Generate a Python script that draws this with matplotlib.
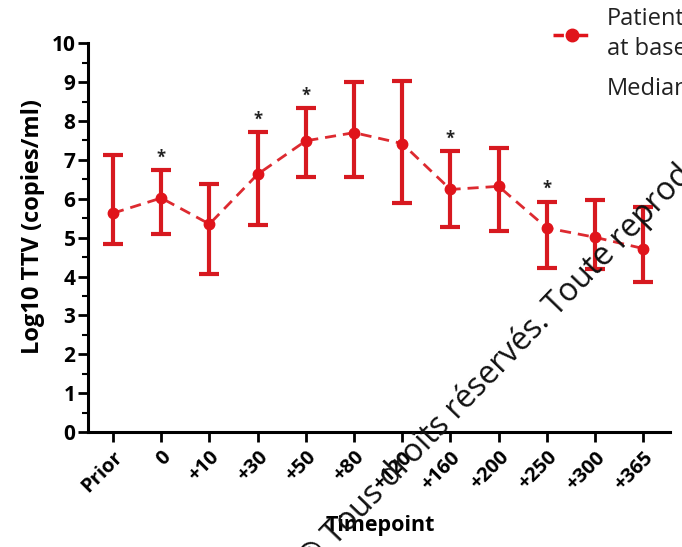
import numpy as np
import matplotlib.pyplot as plt
from matplotlib.ticker import MultipleLocator

plt.rcParams['font.family'] = ['Open Sans', 'DejaVu Sans']

timepoints = ['Prior', '0', '+10', '+30', '+50', '+80', '+120', '+160', '+200', '+250', '+300', '+365']
median = [5.63, 6.02, 5.35, 6.63, 7.49, 7.70, 7.42, 6.24, 6.32, 5.25, 5.01, 4.72]
upper = [7.13, 6.74, 6.38, 7.71, 8.34, 8.99, 9.03, 7.23, 7.30, 5.93, 5.98, 5.78]
lower = [4.85, 5.10, 4.07, 5.33, 6.56, 6.56, 5.89, 5.27, 5.17, 4.21, 4.20, 3.87]
stars = [False, True, False, True, True, False, False, True, False, True, False, False]

red = '#e0141b'

fig = plt.figure(figsize=(6.82, 5.47), dpi=100)
ax = fig.add_axes([0.129, 0.210, 0.853, 0.711])

x = np.arange(len(timepoints))
med = np.array(median)
yerr = [med - np.array(lower), np.array(upper) - med]
ax.errorbar(x, med, yerr=yerr, fmt='o', color=red, ecolor='#d71920', elinewidth=3,
            capsize=7, capthick=3, markersize=7.5, zorder=3)
ax.plot(x, med, linestyle=(0, (4, 2.5)), color='#dd2a30', linewidth=2, zorder=2)

for i, s in enumerate(stars):
    if s:
        ax.text(x[i], upper[i] + 0.32, '*', ha='center', va='center', fontsize=12,
                fontweight='bold', color='#222222')

ax.set_xlim(-0.52, 11.55)
ax.set_ylim(0, 10)
ax.set_xticks(x)
ax.set_xticklabels(timepoints, rotation=45, ha='right', rotation_mode='anchor',
                   fontsize=14.5, fontweight='bold')
ax.set_yticks(range(0, 11))
ax.yaxis.set_minor_locator(MultipleLocator(0.5))
ax.tick_params(axis='y', labelsize=15, width=2, length=7, pad=2)
ax.tick_params(axis='y', which='minor', width=1.5, length=4)
ax.tick_params(axis='x', width=2, length=7, pad=4)
for lbl in ax.get_yticklabels():
    lbl.set_fontweight('bold')
ax.spines['top'].set_visible(False)
ax.spines['right'].set_visible(False)
ax.spines['left'].set_linewidth(2.2)
ax.spines['bottom'].set_linewidth(2.2)

ax.set_ylabel('Log10 TTV (copies/ml)', fontsize=17, fontweight='bold')
ax.yaxis.set_label_coords(-0.074, 0.528)
ax.set_xlabel('Timepoint', fontsize=15.5, fontweight='bold')
ax.xaxis.set_label_coords(0.502, -0.214)

# legend, cut off at the right edge like in the source
leg_line = plt.Line2D([0.811, 0.839, 0.866], [0.936, 0.936, 0.936], transform=fig.transFigure,
                      color=red, linestyle=(0, (3, 4)), linewidth=2.5,
                      marker='o', markersize=9, markevery=[1])
fig.lines.append(leg_line)
fig.text(0.89, 0.965, 'Patient', fontsize=17, va='center', ha='left', color='#222222')
fig.text(0.89, 0.91, 'at base', fontsize=17, va='center', ha='left', color='#222222')
fig.text(0.89, 0.838, 'Median', fontsize=17, va='center', ha='left', color='#222222')

# watermark
fig.text(0.465, -0.055, '© Tous droits réservés. Toute reprod', rotation=46,
         fontsize=23, color='#111111', ha='left', va='bottom', rotation_mode='anchor')

fig.savefig('out.png', dpi=100)
